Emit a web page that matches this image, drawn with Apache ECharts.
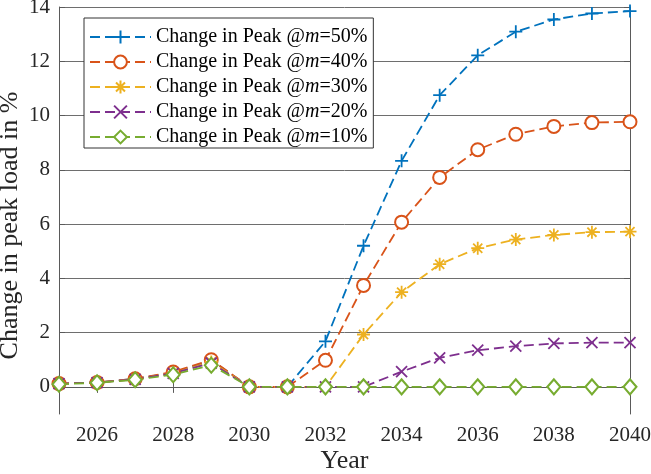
<!DOCTYPE html>
<html>
<head>
<meta charset="utf-8">
<script src="https://cdn.jsdelivr.net/npm/echarts@6/dist/echarts.min.js"></script>
<style>
  html, body { margin: 0; padding: 0; background: #fff; }
  #chart { width: 651px; height: 474px; }
</style>
</head>
<body>
<div id="chart"></div>
<script>
// values
const years = [2025, 2026, 2027, 2028, 2029, 2030, 2031, 2032, 2033, 2034, 2035, 2036, 2037, 2038, 2039, 2040]
const peak50 = [0.12, 0.16, 0.3, 0.52, 0.98, 0, 0, 1.68, 5.2, 8.33, 10.75, 12.22, 13.09, 13.54, 13.76, 13.85]
const peak40 = [0.12, 0.16, 0.3, 0.55, 1.0, 0, 0, 0.98, 3.74, 6.07, 7.72, 8.74, 9.31, 9.6, 9.74, 9.77]
const peak30 = [0.12, 0.16, 0.28, 0.5, 0.92, 0, 0, 0, 1.93, 3.49, 4.52, 5.11, 5.43, 5.6, 5.7, 5.72]
const peak20 = [0.12, 0.16, 0.28, 0.5, 0.88, 0, 0, 0, 0, 0.56, 1.07, 1.35, 1.5, 1.6, 1.63, 1.63]
const peak10 = [0.1, 0.15, 0.26, 0.45, 0.8, 0, 0, 0, 0, 0, 0, 0, 0, 0, 0, 0]
const xTicks = [2026, 2028, 2030, 2032, 2034, 2036, 2038, 2040]
const yTicks = [0, 2, 4, 6, 8, 10, 12, 14]

const font = 'Liberation Serif'
const axisColor = '#5a5a5a'

// MATLAB style markers drawn as stroked paths
const PLUS = 'path://M5,0L5,10M0,5L10,5'
const CROSS = 'path://M0,0L10,10M0,10L10,0'
const STAR = 'path://M5,0L5,10M0,5L10,5M1.5,1.5L8.5,8.5M1.5,8.5L8.5,1.5'

function makeSeries(name, values, color, symbol, size) {
  return {
    name: name,
    type: 'line',
    data: years.map((y, i) => [y, values[i]]),
    symbol: symbol,
    symbolSize: size,
    showAllSymbol: true,
    animation: false,
    lineStyle: { color: color, width: 1.8, type: [10, 5] },
    itemStyle: { color: color, borderColor: color, borderWidth: 1.8 }
  }
}

const chart = echarts.init(document.getElementById('chart'))

chart.setOption({
  backgroundColor: '#fff',
  grid: { left: 59, right: 21, top: 7, bottom: 60, outerBoundsMode: 'none', containLabel: false },
  legend: {
    orient: 'vertical',
    left: 84,
    top: 18,
    padding: [9, 6, 1, 5],
    itemWidth: 61,
    itemHeight: 16,
    itemGap: 5,
    backgroundColor: '#fff',
    borderColor: '#333',
    borderWidth: 1,
    borderRadius: 0,
    formatter: name => name.replace('@m', '@{i|m}'),
    textStyle: {
      fontFamily: font,
      fontSize: 20,
      color: '#000',
      rich: { i: { fontFamily: font, fontSize: 20, fontStyle: 'italic', color: '#000' } }
    }
  },
  xAxis: [{
    type: 'value',
    min: 2025,
    max: 2040,
    interval: 1,
    name: 'Year',
    nameLocation: 'middle',
    nameGap: 34,
    nameMoveOverlap: false,
    nameTextStyle: { fontFamily: font, fontSize: 26, color: '#262626' },
    axisLine: { lineStyle: { color: axisColor, width: 1 } },
    axisTick: { inside: true, length: 6, customValues: xTicks, lineStyle: { color: axisColor } },
    axisLabel: { customValues: xTicks, margin: 11, fontFamily: font, fontSize: 21, color: '#262626', formatter: v => String(v) },
    splitLine: { show: false }
  }, {
    type: 'value',
    position: 'top',
    min: 2025,
    max: 2040,
    interval: 1,
    axisLine: { lineStyle: { color: axisColor, width: 1 } },
    axisTick: { inside: true, length: 6, customValues: xTicks, lineStyle: { color: axisColor } },
    axisLabel: { show: false },
    splitLine: { show: false }
  }],
  yAxis: [{
    type: 'value',
    min: -1,
    max: 14,
    interval: 1,
    name: 'Change in peak load in %',
    nameLocation: 'middle',
    nameGap: 36,
    nameMoveOverlap: false,
    nameTextStyle: { fontFamily: font, fontSize: 26, color: '#262626', padding: [0, 30, 0, 0] },
    axisLine: { show: true, lineStyle: { color: axisColor, width: 1 } },
    axisTick: { show: true, inside: true, length: 6, customValues: yTicks, lineStyle: { color: axisColor } },
    axisLabel: { customValues: yTicks, margin: 9, fontFamily: font, fontSize: 21, color: '#262626' },
    splitLine: { show: true, lineStyle: { color: '#6e6e6e', width: 1 } }
  }, {
    type: 'value',
    position: 'right',
    min: -1,
    max: 14,
    interval: 1,
    axisLine: { show: true, lineStyle: { color: axisColor, width: 1 } },
    axisTick: { show: true, inside: true, length: 6, customValues: yTicks, lineStyle: { color: axisColor } },
    axisLabel: { show: false },
    splitLine: { show: false }
  }],
  series: [
    makeSeries('Change in Peak @m=50%', peak50, '#0072BD', PLUS, 13),
    makeSeries('Change in Peak @m=40%', peak40, '#D95319', 'emptyCircle', 13),
    makeSeries('Change in Peak @m=30%', peak30, '#EDB120', STAR, 13),
    makeSeries('Change in Peak @m=20%', peak20, '#7E2F8E', CROSS, 11),
    makeSeries('Change in Peak @m=10%', peak10, '#77AC30', 'emptyDiamond', [13, 15])
  ]
})
</script>
</body>
</html>
